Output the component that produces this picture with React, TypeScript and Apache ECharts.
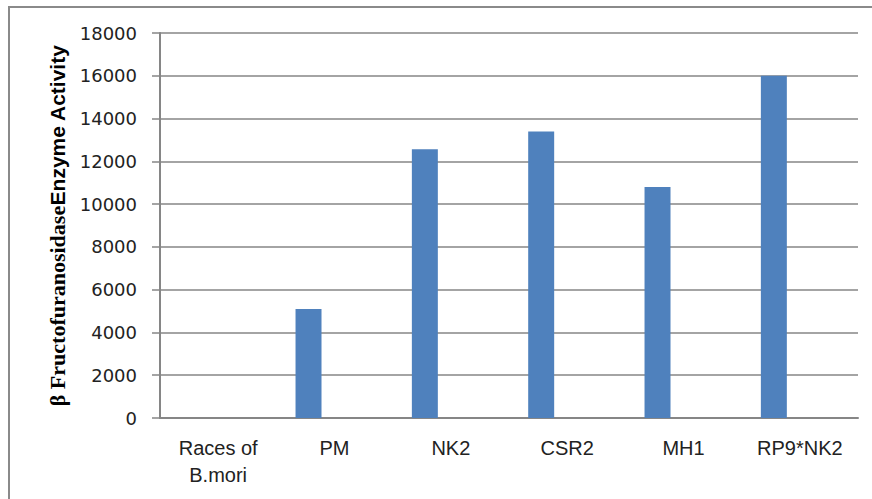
import React, { useEffect, useRef } from "react";
import * as echarts from "echarts";

const categories: string[] = ["Races of\nB.mori", "PM", "NK2", "CSR2", "MH1", "RP9*NK2"];
const activity: (number | null)[] = [null, 5100, 12570, 13400, 10800, 16000];
const emptySeries2: (number | null)[] = [null, null, null, null, null, null];
const emptySeries3: (number | null)[] = [null, null, null, null, null, null];
const yTicks = { min: 0, max: 18000, interval: 2000 };

export default function App() {
  const ref = useRef<HTMLDivElement>(null);
  useEffect(() => {
    if (!ref.current) return;
    const chart = echarts.init(ref.current, null, { renderer: "svg" });
    const gray = "#868686";
    chart.setOption({
      animation: false,
      backgroundColor: "#ffffff",
      grid: { left: 160, right: 14, top: 33, bottom: 81, containLabel: false },
      graphic: [
        {
          type: "rect",
          shape: { x: 9, y: 7, width: 900, height: 520 },
          style: { fill: "none", stroke: "#8a8a8a", lineWidth: 2 },
          silent: true,
        },
      ],
      xAxis: {
        type: "category",
        data: categories,
        axisLine: { show: true, lineStyle: { color: gray, width: 2 } },
        axisTick: { show: false },
        axisLabel: {
          interval: 0,
          margin: 16,
          fontFamily: "Liberation Sans",
          fontSize: 20,
          lineHeight: 27,
          color: "#222",
        },
        splitLine: { show: false },
      },
      yAxis: {
        type: "value",
        min: yTicks.min,
        max: yTicks.max,
        interval: yTicks.interval,
        name: "{a|β Fructofuranosidase}{b|Enzyme Activity}",
        nameLocation: "middle",
        nameGap: 90,
        nameRotate: 90,
        nameTextStyle: {
          rich: {
            a: {
              fontFamily: "Liberation Serif",
              fontWeight: "bold",
              fontSize: 22,
              color: "#000",
            },
            b: {
              fontFamily: "Liberation Sans",
              fontWeight: "bold",
              fontSize: 21,
              color: "#000",
            },
          },
        },
        axisLine: { show: true, lineStyle: { color: gray, width: 2 } },
        axisTick: { show: true, length: 8, lineStyle: { color: gray, width: 1.5 } },
        axisLabel: {
          margin: 23,
          fontFamily: "DejaVu Sans",
          fontSize: 18,
          color: "#222",
          formatter: (v: number) => String(v),
        },
        splitLine: { show: true, lineStyle: { color: gray, width: 1.5 } },
      },
      series: [
        {
          type: "bar",
          data: activity,
          itemStyle: { color: "#4F81BD" },
          barGap: "0%",
          barCategoryGap: "33%",
        },
        { type: "bar", data: emptySeries2, itemStyle: { color: "#C0504D" } },
        { type: "bar", data: emptySeries3, itemStyle: { color: "#9BBB59" } },
      ],
    });
    return () => chart.dispose();
  }, []);
  return (
    <div
      ref={ref}
      style={{ position: "fixed", left: 0, top: 0, width: 872, height: 499 }}
    />
  );
}
